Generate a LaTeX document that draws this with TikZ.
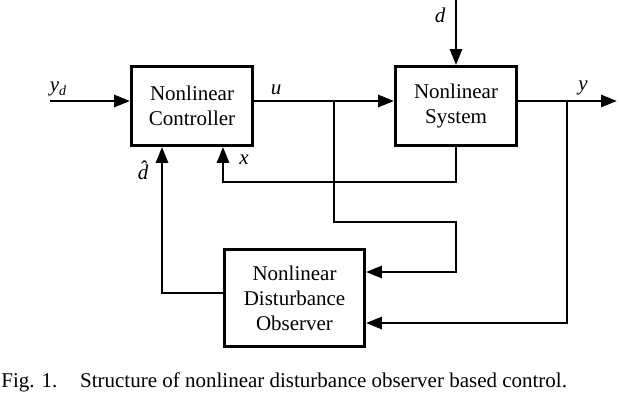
\documentclass[tikz,border=0pt]{standalone}
\usepackage{fontspec}
\setmainfont{Liberation Serif}
\usetikzlibrary{arrows.meta}

\newcommand{\subd}{\raisebox{-4pt}{\fontsize{14}{14}\selectfont\textit{d}}}

\begin{document}
\begin{tikzpicture}[x=1pt, y=1pt, line width=2.8pt,
    font=\fontsize{21}{25}\selectfont,
    block/.style={draw, rectangle, minimum width=121pt, minimum height=79pt, align=center, inner sep=0pt},
    sig/.style={-{Triangle[length=16pt, width=12pt]}},
    lbl/.style={inner sep=0pt, font=\fontsize{21}{25}\selectfont\itshape}]
    \useasboundingbox (0,0) rectangle (619,-405);
    % blocks
    \node[block] (ctrl) at (192,-106) {Nonlinear\\Controller};
    \node[block] (sys) at (456,-106) {Nonlinear\\System};
    \node[block, minimum width=140pt, minimum height=97pt] (dob) at (294.5,-298) {Nonlinear\\Disturbance\\Observer};

    % helper points
    \coordinate (yd) at (50,-101);
    \coordinate (ub) at (334,-101);
    \coordinate (uc) at (456,-222);
    \coordinate (ui) at (0,-272);
    \coordinate (din) at (456,0);
    \coordinate (yout) at (617,-101);
    \coordinate (yb) at (567,-101);
    \coordinate (yi) at (0,-323);
    \coordinate (xf) at (223,-182);
    \coordinate (dh) at (162,-293);

    % reference input
    \draw[sig] (yd) -- (yd -| ctrl.west);
    \node[lbl] (ydl) at (58,-89) {y\subd};
    % control input u
    \draw[sig] (ub -| ctrl.east) -- (ub -| sys.west);
    \draw[sig] (ub) |- (uc) |- (dob.east |- ui);
    \node[lbl] (ul) at (276,-90) {u};
    % disturbance d
    \draw[sig] (din) -- (sys.north);
    \node[lbl] (dl) at (440,-15) {d};
    % output y
    \draw[sig] (sys.east |- yout) -- (yout);
    \draw[sig] (yb) |- (dob.east |- yi);
    \node[lbl] (yl) at (583,-88) {y};
    % state feedback x
    \draw[sig] (sys.south) |- (xf) -- (xf |- ctrl.south);
    \node[lbl] (xl) at (244,-160) {x};
    % estimate of d
    \draw[sig] (dob.west |- dh) -| (dh |- ctrl.south);
    \node[lbl] (dhl) at (143,-170) {\^{d}};

    % caption
    \node[anchor=base west, inner sep=0pt] (cap) at (0,-387) {Fig. 1.\hspace{22.7pt}Structure of nonlinear disturbance observer based control.};
\end{tikzpicture}
\end{document}
